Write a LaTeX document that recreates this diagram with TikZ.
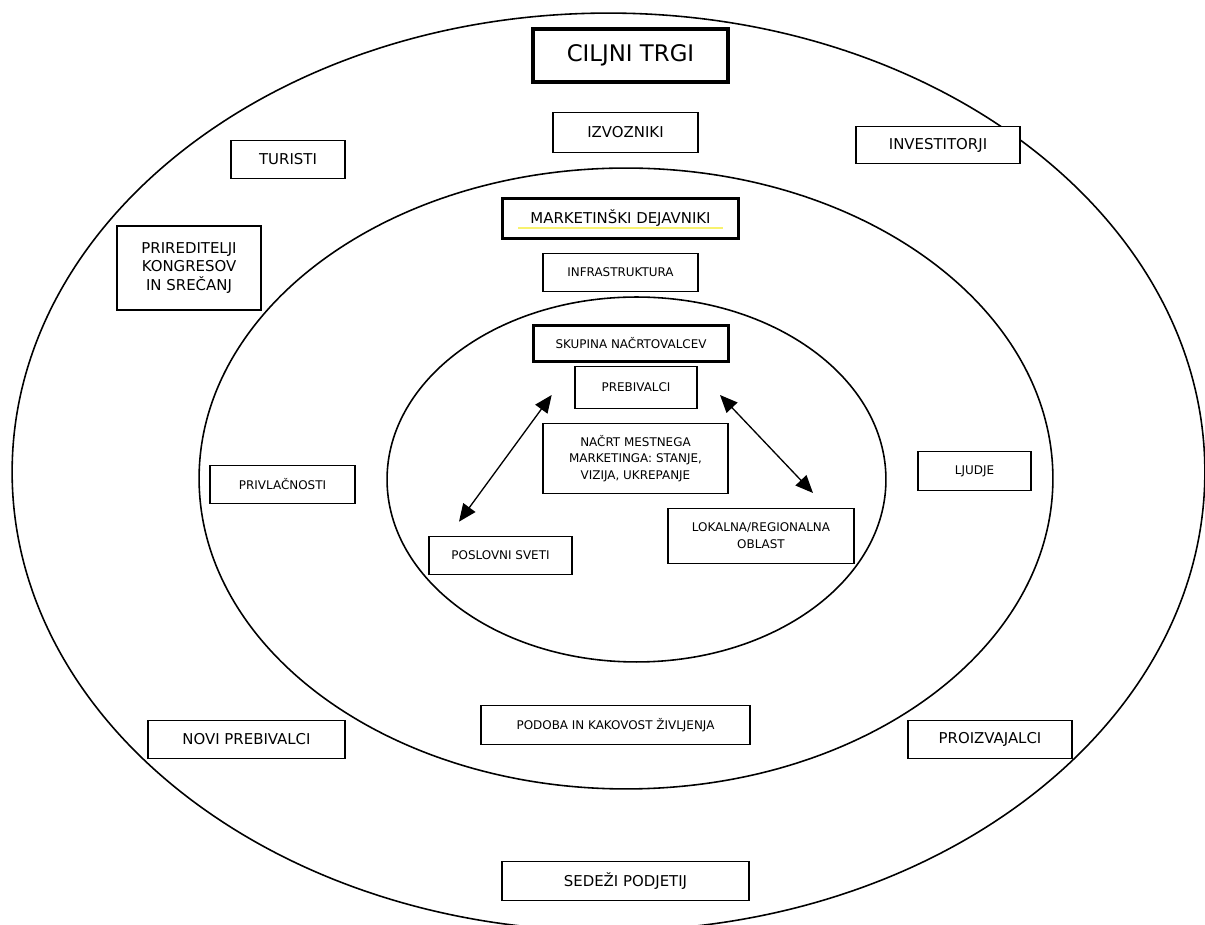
\documentclass[tikz,border=0pt]{standalone}
\usepackage{fontspec}
\setmainfont{DejaVu Sans}
\usetikzlibrary{arrows.meta}

\newcommand{\bigtxt}{\fontsize{8.5}{10.4}\selectfont}
\newcommand{\smalltxt}{\fontsize{6.8}{9.5}\selectfont}
\newcommand{\titletxt}{\fontsize{13}{15.6}\selectfont}
\definecolor{marker}{RGB}{248,242,110}

\tikzset{
  box/.style={draw, fill=white, line width=1pt, inner sep=0pt, align=center, font=\bigtxt},
  smallbox/.style={box, font=\smalltxt},
  thickbox/.style={box, line width=1.6pt},
  ring/.style={line width=0.9pt},
  link/.style={line width=0.75pt, {Triangle[length=10pt,width=8.5pt]}-{Triangle[length=10pt,width=8.5pt]}}
}

\newcommand{\rings}{
  % Outer ring
  \draw [ring] (608.5,472) ellipse (11.93cm and 9.18cm);
  % Middle ring
  \draw [ring] (626,478.5) ellipse (8.54cm and 6.21cm);
  % Inner ring
  \draw [ring] (636.5,479.5) ellipse (4.99cm and 3.65cm);
}

\begin{document}
\begin{tikzpicture}[x=0.02cm, y=-0.02cm]
    \useasboundingbox (0,0) rectangle (1205,925);
    \rings

    % Target markets
    \node [box, line width=2.5pt, font=\titletxt, minimum width=3.89cm, minimum height=1.05cm] (ciljni) at (630.5,55.5) {CILJNI TRGI};
    \node [box, minimum width=2.90cm, minimum height=0.80cm] (izvozniki) at (625.5,132.5) {IZVOZNIKI};
    \node [box, minimum width=2.28cm, minimum height=0.76cm] (turisti) at (288,159.5) {TURISTI};
    \node [box, minimum width=3.28cm, minimum height=0.74cm] (investitorji) at (938,145) {INVESTITORJI};
    \node [box, minimum width=2.88cm, minimum height=1.68cm] (prireditelji) at (189,268) {PRIREDITELJI\\KONGRESOV\\IN SREČANJ};
    \node [box, minimum width=3.94cm, minimum height=0.76cm] (novi) at (246.5,739.5) {NOVI PREBIVALCI};
    \node [box, minimum width=3.28cm, minimum height=0.76cm] (proizvajalci) at (990,739.5) {PROIZVAJALCI};
    \node [box, minimum width=4.94cm, minimum height=0.78cm] (sedezi) at (625.5,881) {SEDEŽI PODJETIJ};

    % Marketing factors
    \node [thickbox, minimum width=4.72cm, minimum height=0.80cm] (dejavniki) at (620.5,218.5) {MARKETINŠKI DEJAVNIKI};
    \draw [marker, line width=0.6pt] (518,228) -- (723,228);
    \node [smallbox, minimum width=3.10cm, minimum height=0.76cm] (infrastruktura) at (620.5,272.5) {INFRASTRUKTURA};
    \node [smallbox, minimum width=2.90cm, minimum height=0.76cm] (privlacnosti) at (282.5,484.5) {PRIVLAČNOSTI};
    \node [smallbox, minimum width=2.26cm, minimum height=0.78cm] (ljudje) at (974.5,471) {LJUDJE};
    \node [smallbox, minimum width=5.38cm, minimum height=0.78cm] (podoba) at (615.5,725) {PODOBA IN KAKOVOST ŽIVLJENJA};

    % Planning group
    \node [thickbox, font=\smalltxt, minimum width=3.90cm, minimum height=0.72cm] (skupina) at (631,343.5) {SKUPINA NAČRTOVALCEV};
    \node [smallbox, minimum width=2.44cm, minimum height=0.84cm] (prebivalci) at (636,387.5) {PREBIVALCI};
    \node [smallbox, minimum width=3.70cm, minimum height=1.40cm] (nacrt) at (635.5,458.5) {NAČRT MESTNEGA\\MARKETINGA: STANJE,\\VIZIJA, UKREPANJE};
    \node [smallbox, minimum width=3.72cm, minimum height=1.10cm] (oblast) at (761,536) {LOKALNA/REGIONALNA\\OBLAST};
    \node [smallbox, minimum width=2.86cm, minimum height=0.76cm] (sveti) at (500.5,555.5) {POSLOVNI SVETI};

    % Links
    \coordinate (sveti-in) at (551.7,395);
    \coordinate (sveti-out) at (459,521.7);
    \coordinate (oblast-in) at (720,395);
    \coordinate (oblast-out) at (813,493);
    \draw [link] (sveti-in) -- (sveti-out);
    \draw [link] (oblast-in) -- (oblast-out);
\end{tikzpicture}
\end{document}
